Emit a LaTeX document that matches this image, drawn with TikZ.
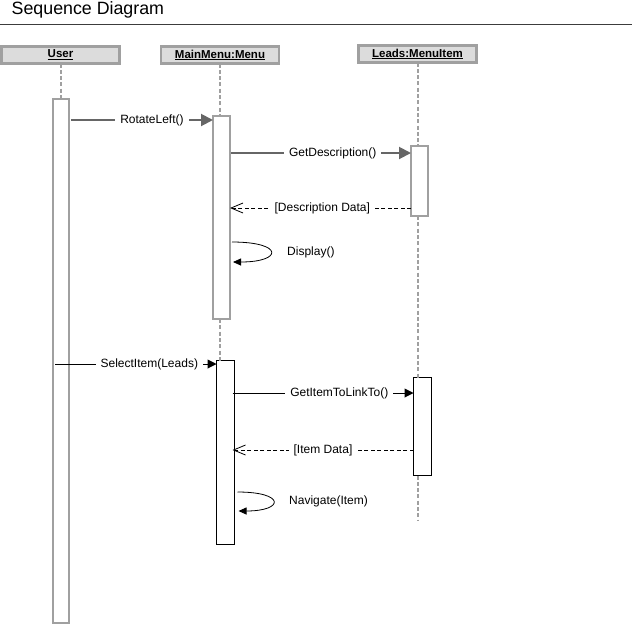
\documentclass[tikz,border=0pt]{standalone}
\usepackage{fontspec}
\setmainfont{Liberation Sans}
\usetikzlibrary{arrows.meta}
\definecolor{bordergray}{RGB}{160,160,160}
\definecolor{headfill}{RGB}{220,220,220}
\definecolor{msggray}{RGB}{102,102,102}
\definecolor{rulegray}{RGB}{60,60,60}
\begin{document}
\begin{tikzpicture}[x=1pt,y=-1pt,
  headbox/.style={draw=bordergray, line width=2.5pt, fill=headfill, minimum width=118pt, minimum height=17pt, inner sep=0pt, outer sep=0pt, font=\fontsize{11.5}{13}\selectfont\bfseries},
  actgray/.style={draw=bordergray, line width=2pt, fill=white, inner sep=0pt, outer sep=0pt},
  actblack/.style={draw=black, line width=1pt, fill=white, inner sep=0pt, outer sep=0pt},
  lifeline/.style={draw=bordergray, line width=2pt, dash pattern=on 4pt off 2.3pt},
  msggrayline/.style={draw=msggray, line width=2pt, -{Triangle[length=12pt,width=12pt]}},
  msgblackline/.style={draw=black, line width=1pt, -{Triangle[length=9pt,width=9pt]}},
  retline/.style={draw=black, line width=0.8pt, dash pattern=on 4pt off 2.5pt, -{Straight Barb[length=12pt,width=10pt]}},
  selfline/.style={draw=black, line width=0.8pt, -{Triangle[length=8pt,width=7pt]}},
  lbl/.style={fill=white, inner xsep=5pt, inner ysep=1pt, font=\fontsize{12}{14}\selectfont},
  freelbl/.style={inner sep=0pt, anchor=west, font=\fontsize{12}{14}\selectfont}
]
\useasboundingbox (0,0) rectangle (632,625);
% title
\node[anchor=base west, inner sep=0pt, font=\fontsize{17.8}{20}\selectfont] (title) at (11.5,14) {Sequence Diagram};
\coordinate (ruleL) at (0,24);
\coordinate (ruleR) at (632,24);
\draw[rulegray, line width=1pt] (ruleL) -- (ruleR);
% heads
\node[headbox] (user) at (60.5,55) {\underline{User}};
\node[headbox] (menu) at (220,55) {\underline{MainMenu:Menu}};
\node[headbox] (item) at (417.5,54) {\underline{Leads:MenuItem}};
% activations
\node[actgray, minimum width=16pt, minimum height=524pt] (uact) at (61,361) {};
\node[actgray, minimum width=17pt, minimum height=203pt] (mact1) at (221.5,217.5) {};
\node[actgray, minimum width=17pt, minimum height=70pt] (iact1) at (419.5,181) {};
\node[actblack, minimum width=18pt, minimum height=184pt] (mact2) at (225.5,452.5) {};
\node[actblack, minimum width=18pt, minimum height=98pt] (iact2) at (422.5,426.5) {};
% lifelines
\coordinate (iend) at (417.5,520);
\draw[lifeline] (user.south) -- (user.south |- uact.north);
\draw[lifeline] (menu.south) -- (menu.south |- mact1.north);
\draw[lifeline] (menu.south |- mact1.south) -- (menu.south |- mact2.north);
\draw[lifeline] (item.south) -- (item.south |- iact1.north);
\draw[lifeline] (item.south |- iact1.south) -- (item.south |- iact2.north);
\draw[lifeline] (item.south |- iact2.south) -- (iend);
% message levels
\coordinate (y1) at (0,120);
\coordinate (y2) at (0,153);
\coordinate (y3) at (0,208);
\coordinate (y4a) at (0,242);
\coordinate (y4b) at (0,262);
\coordinate (y5) at (0,364);
\coordinate (y6) at (0,393);
\coordinate (y7) at (0,450);
\coordinate (y8a) at (0,492);
\coordinate (y8b) at (0,511);
% messages
\draw[msggrayline] ([xshift=2pt]uact.east |- y1) -- node[lbl, pos=0.57] {RotateLeft()} (mact1.west |- y1);
\draw[msggrayline] ([xshift=1pt]mact1.east |- y2) -- node[lbl, pos=0.565] {GetDescription()} (iact1.west |- y2);
\draw[retline] (iact1.west |- y3) -- node[lbl, pos=0.49] {[Description Data]} (mact1.east |- y3);
\draw[selfline] ([xshift=2pt]mact1.east |- y4a) .. controls +(52,0) and +(50,0) .. ([xshift=3pt]mact1.east |- y4b);
\node[freelbl] (disp) at (287,252) {Display()};
\draw[msgblackline] ([xshift=2pt]uact.west |- y5) -- node[lbl, pos=0.584] {SelectItem(Leads)} (mact2.west |- y5);
\draw[msgblackline] ([xshift=-2pt]mact2.east |- y6) -- node[lbl, pos=0.59] {GetItemToLinkTo()} (iact2.west |- y6);
\draw[retline] (iact2.west |- y7) -- node[lbl, pos=0.5] {[Item Data]} ([xshift=-2pt]mact2.east |- y7);
\draw[selfline] ([xshift=3pt]mact2.east |- y8a) .. controls +(48,0) and +(46,0) .. ([xshift=4pt]mact2.east |- y8b);
\node[freelbl] (nav) at (289,501) {Navigate(Item)};
\end{tikzpicture}
\end{document}
